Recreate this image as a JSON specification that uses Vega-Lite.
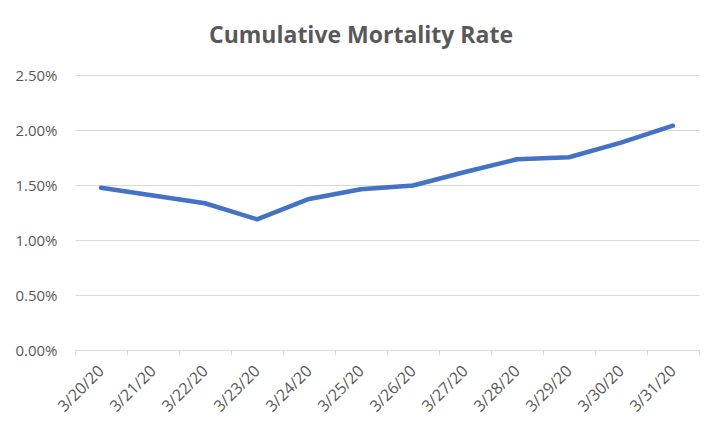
{
  "$schema": "https://vega.github.io/schema/vega-lite/v6.json",
  "width": 624,
  "height": 275,
  "autosize": "none",
  "padding": {"left": 75, "top": 75, "right": 23, "bottom": 84},
  "background": "white",
  "title": {
    "text": "Cumulative Mortality Rate",
    "font": "Open Sans",
    "fontSize": 23,
    "fontWeight": "bold",
    "color": "#595959",
    "anchor": "middle",
    "offset": 20,
    "dx": -26
  },
  "data": {
    "values": [
      {"date": "3/20/20", "rate": 0.01475},
      {"date": "3/21/20", "rate": 0.01405},
      {"date": "3/22/20", "rate": 0.01334},
      {"date": "3/23/20", "rate": 0.01188},
      {"date": "3/24/20", "rate": 0.01373},
      {"date": "3/25/20", "rate": 0.01462},
      {"date": "3/26/20", "rate": 0.01495},
      {"date": "3/27/20", "rate": 0.01618},
      {"date": "3/28/20", "rate": 0.01734},
      {"date": "3/29/20", "rate": 0.01752},
      {"date": "3/30/20", "rate": 0.01885},
      {"date": "3/31/20", "rate": 0.02039}
    ]
  },
  "mark": {"type": "line", "color": "#4472C4", "strokeWidth": 4.5, "strokeCap": "round", "strokeJoin": "round"},
  "encoding": {
    "x": {
      "field": "date",
      "type": "ordinal",
      "sort": null,
      "scale": {"type": "band", "paddingInner": 0, "paddingOuter": 0},
      "axis": {
        "title": null,
        "labelAngle": -45,
        "labelAlign": "right",
        "labelBaseline": "middle",
        "labelFont": "Open Sans",
        "labelFontSize": 16,
        "labelColor": "#595959",
        "labelPadding": 13,
        "domainColor": "#d9d9d9",
        "domainWidth": 1,
        "tickColor": "#d9d9d9",
        "tickSize": 5,
        "tickBand": "extent",
        "grid": false
      }
    },
    "y": {
      "field": "rate",
      "type": "quantitative",
      "scale": {"domain": [0, 0.025], "nice": false},
      "axis": {
        "title": null,
        "values": [0, 0.005, 0.01, 0.015, 0.02, 0.025],
        "format": ".2%",
        "labelFont": "Open Sans",
        "labelFontSize": 15,
        "labelColor": "#595959",
        "labelPadding": 18,
        "domain": false,
        "ticks": false,
        "grid": true,
        "gridColor": "#d9d9d9",
        "gridWidth": 1
      }
    }
  },
  "config": {"view": {"stroke": null}}
}
